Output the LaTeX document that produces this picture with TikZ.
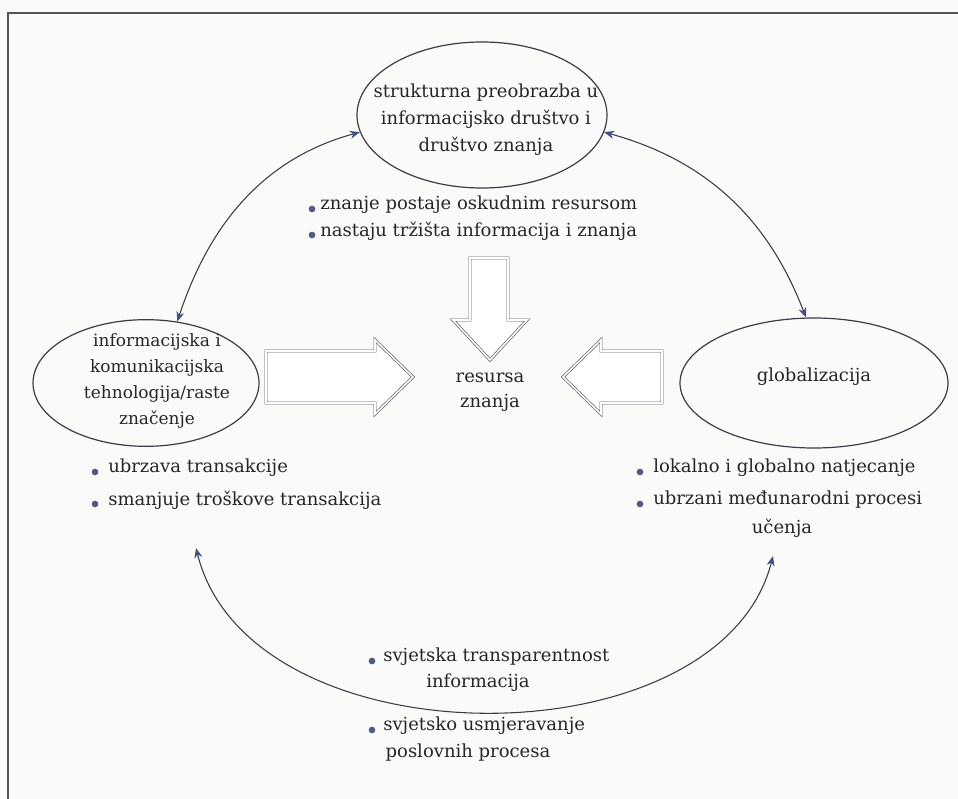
\documentclass[tikz,border=0pt]{standalone}
\usepackage{fontspec}
\setmainfont{DejaVu Serif}
\usetikzlibrary{arrows.meta,shapes.geometric}
\definecolor{bgc}{HTML}{FAFAF8}
\definecolor{textc}{HTML}{262626}
\definecolor{linec}{HTML}{3A3D48}
\definecolor{tipc}{HTML}{3D4F8F}
\definecolor{bulc}{HTML}{4D5A8A}
\definecolor{framec}{HTML}{555555}
\tikzset{
  ell/.style={ellipse, draw=linec, line width=0.9pt, inner sep=0pt},
  lbl/.style={text=textc, align=center, inner sep=0pt},
  btxt/.style={text=textc, anchor=west, inner sep=0pt},
  bul/.style={circle, fill=bulc, inner sep=0pt, minimum size=5pt},
  conn/.style={draw=linec, line width=0.8pt,
    {Stealth[length=7.5pt,width=6pt,color=tipc]}-{Stealth[length=7.5pt,width=6pt,color=tipc]}},
  blockarrow/.style={draw=linec!85, line width=0.5pt, double=white, double distance=1.2pt, fill=white}
}
\begin{document}
\begin{tikzpicture}[x=0.75pt,y=-0.75pt, font=\fontsize{13.5}{20.25}\selectfont]
\useasboundingbox (0,0) rectangle (958,799);
\fill[bgc] (0,0) rectangle (958,799);
\draw[framec, line width=1pt] (958,13) -- (8,13) -- (8,799);

% ellipses
\node[ell, minimum width=187.5pt, minimum height=109.5pt] (T) at (482,115) {};
\node[ell, minimum width=169.5pt, minimum height=95pt] (L) at (146,383) {};
\node[ell, minimum width=201pt, minimum height=97.5pt] (R) at (814,383) {};

\node[lbl] (Tt) at (486,120) {strukturna preobrazba u\\informacijsko društvo i\\društvo znanja};
\node[lbl, font=\fontsize{12.75}{19.5}\selectfont] (Lt) at (157,381) {informacijska i\\komunikacijska\\tehnologija/raste\\značenje};
\node[lbl] (Rt) at (814,377) {globalizacija};

% centre
\node[lbl, font=\fontsize{13.5}{18.75}\selectfont] (C) at (490,392) {resursa\\znanja};

% block arrows
\draw[blockarrow] (470,258) -- (508,258) -- (508,320) -- (527,320) -- (490,360) -- (453,320) -- (470,320) -- cycle;
\draw[blockarrow] (266,351) -- (375,351) -- (375,340) -- (413,377) -- (375,414) -- (375,403) -- (266,403) -- cycle;
\draw[blockarrow] (662,351) -- (601,351) -- (601,340) -- (563,377) -- (601,414) -- (601,403) -- (662,403) -- cycle;

% bullets top
\node[bul] (b1) at (312,209) {};
\node[btxt] (t1) at (320,205) {znanje postaje oskudnim resursom};
\node[bul] (b2) at (312,235) {};
\node[btxt] (t2) at (320,231) {nastaju tržišta informacija i znanja};

% bullets left
\node[bul] (b3) at (95,472) {};
\node[btxt] (t3) at (108,468) {ubrzava transakcije};
\node[bul] (b4) at (95,504) {};
\node[btxt] (t4) at (108,500) {smanjuje troškove transakcija};

% bullets right
\node[bul] (b5) at (640,472) {};
\node[btxt] (t5) at (653,468) {lokalno i globalno natjecanje};
\node[bul] (b6) at (640,504) {};
\node[btxt] (t6) at (653,500) {ubrzani međunarodni procesi};
\node[lbl] (t6b) at (782,528) {učenja};

% bullets bottom
\node[bul] (b7) at (372,661) {};
\node[btxt] (t7) at (383,657) {svjetska transparentnost};
\node[lbl] (t7b) at (478,683) {informacija};
\node[bul] (b8) at (372,730) {};
\node[btxt] (t8) at (383,726) {svjetsko usmjeravanje};
\node[lbl] (t8b) at (468,753) {poslovnih procesa};

% connectors
\coordinate (BL) at (196,548);
\coordinate (BR) at (773,556);
\draw[conn] (L.63) .. controls (208,228) and (261,159) .. (T.188);
\draw[conn] (T.352) .. controls (713,162) and (771,226) .. (R.97);
\draw[conn] (BL) .. controls (250,765) and (720,765) .. (BR);
\end{tikzpicture}
\end{document}
